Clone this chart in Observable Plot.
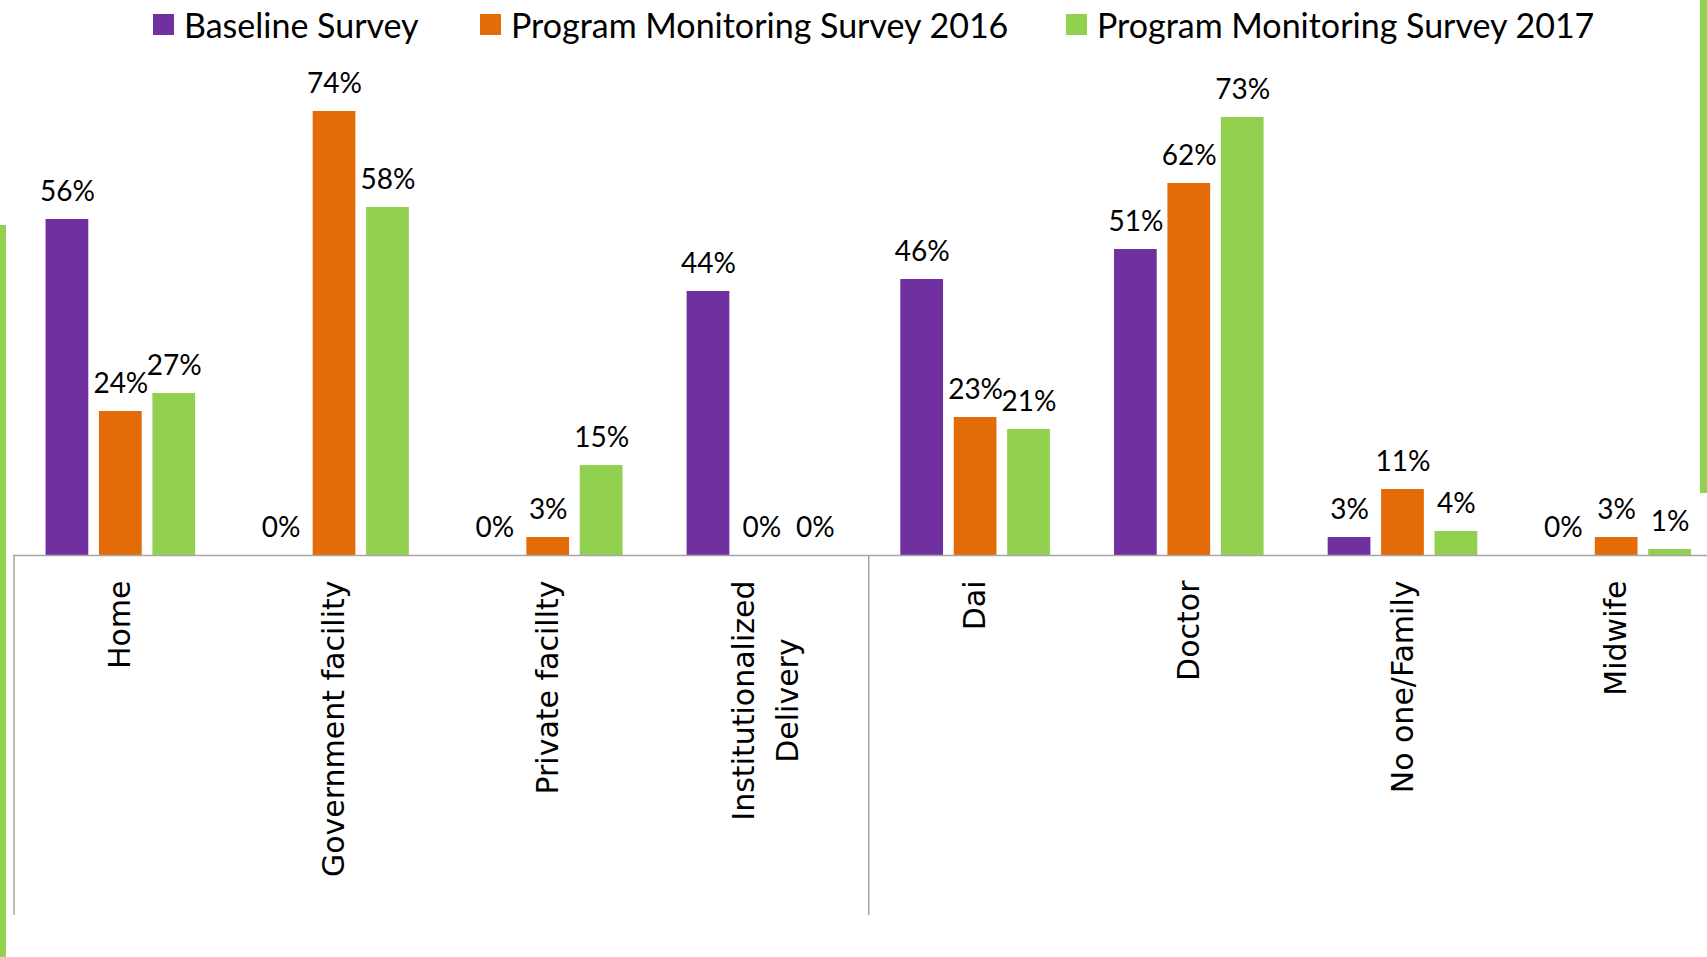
<!DOCTYPE html>
<html>
<head>
<meta charset="utf-8">
<script src="https://cdn.jsdelivr.net/npm/d3@7"></script>
<script src="https://cdn.jsdelivr.net/npm/@observablehq/plot@0.6"></script>
<style>
html, body { margin: 0; padding: 0; background: #fff; overflow: hidden; width: 1707px; height: 957px; }
#wrap { position: relative; width: 1707px; height: 957px; overflow: hidden; }
#legend { height: 52px; width: 1707px; padding-left: 153px; padding-bottom: 4px; box-sizing: border-box; display: flex; align-items: center; }
#legend .lg-swatches { margin: 0 !important; flex-wrap: nowrap !important; width: max-content; flex: none; }
#legend .lg-swatch { margin-right: 0 !important; flex: none; white-space: nowrap; }
#legend .lg-swatch > svg { margin-right: 10px !important; }
#chart svg { display: block; max-width: none !important; }
.deco { position: absolute; background: #92D050; }
</style>
</head>
<body>
<div id="wrap">
  <div id="legend"></div>
  <div id="chart"></div>
  <div class="deco" style="left:0;top:225px;width:6px;height:732px"></div>
  <div class="deco" style="left:1700px;top:0;width:7px;height:493px"></div>
</div>
<script>
// ---- data ----
const categories = ["Home", "Government facility", "Private facillty", "Institutionalized\nDelivery", "Dai", "Doctor", "No one/Family", "Midwife"];
const series = ["Baseline Survey", "Program Monitoring Survey 2016", "Program Monitoring Survey 2017"];
const baselineSurvey = [56, 0, 0, 44, 46, 51, 3, 0];
const monitoring2016 = [24, 74, 3, 0, 23, 62, 11, 3];
const monitoring2017 = [27, 58, 15, 0, 21, 73, 4, 1];
const groupStarts = [0, 4]; // index of first category in each category group
const colors = ["#7030A0", "#E36C09", "#92D050"];

// ---- layout constants ----
const STEP = 0.25;   // offset between bars within a category (fraction of band)
const BAR = 0.2;     // bar width (fraction of band)
const labelFont = "DejaVu Sans";
const labelSize = 30;
const valueFont = "Lato";
const legendItemWidths = [327, 586]; // spacing of legend entries (px)

const seriesValues = [baselineSurvey, monitoring2016, monitoring2017];
const rows = categories.flatMap((c, i) => seriesValues.map((vals, j) => ({
  category: c, idx: i, s: j, series: series[j], value: vals[i]
})));
const catRows = categories.map((c, i) => ({label: c, idx: i}));
const single = catRows.filter(d => !d.label.includes("\n"));
const multi = catRows.filter(d => d.label.includes("\n"));

function textWidth(str, font) {
  const ctx = document.createElement("canvas").getContext("2d");
  ctx.font = font;
  return ctx.measureText(str).width;
}
const multiWidth = Math.max(...multi.flatMap(d => d.label.split("\n")).map(s => textWidth(s, `${labelSize}px "${labelFont}"`)));

const colorScale = {domain: series, range: colors};

const legend = Plot.legend({
  color: colorScale,
  className: "lg",
  swatchSize: 21,
  style: {fontFamily: "Lato", fontSize: "34px", color: "#000"}
});
legend.querySelectorAll(".lg-swatch").forEach((el, i) => {
  if (i < legendItemWidths.length) el.style.width = legendItemWidths[i] + "px";
});
document.getElementById("legend").appendChild(legend);

const barCenter = d => d.idx + 0.5 + (d.s - 1) * STEP;

const chart = Plot.plot({
  width: 1707,
  height: 905,
  marginLeft: 13,
  marginRight: 0,
  marginTop: 0,
  marginBottom: 42,
  style: {overflow: "visible", background: "transparent"},
  x: {domain: [0, categories.length], range: [13.5, 1723], axis: null},
  y: {domain: [0, 100], range: [503, -97], axis: null},
  color: colorScale,
  marks: [
    Plot.rectY(rows, {
      x1: d => barCenter(d) - BAR / 2,
      x2: d => barCenter(d) + BAR / 2,
      y1: () => 0,
      y2: "value",
      fill: "series"
    }),
    Plot.ruleY([0], {stroke: "#a6a6a6", strokeWidth: 1.5}),
    Plot.ruleX(groupStarts, {x: d => d, y1: () => 0, y2: () => -60, stroke: "#a6a6a6", strokeWidth: 1.5}),
    Plot.text(rows, {
      x: barCenter,
      y: "value",
      text: d => `${d.value}%`,
      dy: -19,
      lineAnchor: "bottom",
      fontFamily: valueFont,
      fontSize: 28,
      fill: "#000"
    }),
    Plot.text(single, {
      x: d => d.idx + 0.5,
      y: () => 0,
      text: "label",
      rotate: -90,
      textAnchor: "end",
      lineAnchor: "middle",
      dy: 25,
      fontFamily: labelFont,
      fontSize: labelSize,
      fill: "#000"
    }),
    Plot.text(multi, {
      x: d => d.idx + 0.5,
      y: () => 0,
      text: "label",
      rotate: -90,
      textAnchor: "middle",
      lineAnchor: "middle",
      lineHeight: 1.45,
      dy: 25 + multiWidth / 2,
      fontFamily: labelFont,
      fontSize: labelSize,
      fill: "#000"
    })
  ]
});
document.getElementById("chart").appendChild(chart);
</script>
</body>
</html>
